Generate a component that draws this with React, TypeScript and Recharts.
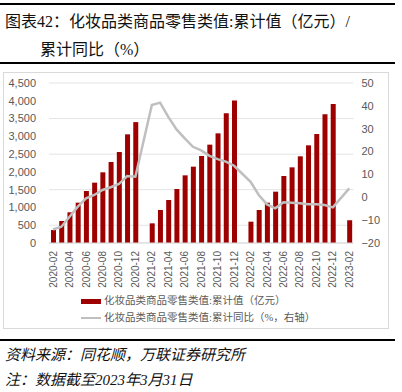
import { ComposedChart, Bar, Line, XAxis, YAxis, CartesianGrid } from "recharts";

const months = [
  "2020-02", "2020-03", "2020-04", "2020-05", "2020-06", "2020-07", "2020-08", "2020-09", "2020-10", "2020-11", "2020-12",
  "2021-01", "2021-02", "2021-03", "2021-04", "2021-05", "2021-06", "2021-07", "2021-08", "2021-09", "2021-10", "2021-11", "2021-12",
  "2022-01", "2022-02", "2022-03", "2022-04", "2022-05", "2022-06", "2022-07", "2022-08", "2022-09", "2022-10", "2022-11", "2022-12",
  "2023-01", "2023-02",
];

// 累计值（亿元）
const cumValue = [
  366, 619, 863, 1134, 1462, 1697, 1988, 2278, 2559, 3056, 3400,
  null, 553, 928, 1209, 1519, 1903, 2147, 2447, 2766, 3084, 3647, 4010,
  null, 600, 928, 1134, 1444, 1884, 2128, 2438, 2747, 3066, 3619, 3910,
  null, 640,
];

// 累计同比（%）
const cumYoy = [
  -14.1, -12.9, -8.5, -4.1, -0.5, 1.0, 3.2, 4.4, 5.8, 9.3, 9.0,
  null, 40.4, 41.4, 35.2, 29.7, 25.8, 22.1, 20.5, 18.1, 16.7, 15.6, 13.8,
  null, 6.8, 1.0, -3.1, -4.8, -2.2, -2.4, -2.6, -3.0, -3.1, -3.4, -4.4,
  null, 3.9,
];

const leftTicks = [0, 500, 1000, 1500, 2000, 2500, 3000, 3500, 4000, 4500];
const rightTicks = [-20, -10, 0, 10, 20, 30, 40, 50];

const data = months.map((m, i) => ({ month: m, value: cumValue[i], yoy: cumYoy[i] }));

const RED = "#9E0000";
const GRAY = "#BFBFBF";
const TICK = "#595959";
const SANS = '"Liberation Sans", Arial, sans-serif';
const CJK = '"Liberation Serif", "Noto Sans CJK SC", serif';

function MonthTick({ x, y, payload }: any) {
  return (
    <g transform={`translate(${x},${y})`}>
      <text transform="rotate(-90)" textAnchor="end" dy="0.35em" fill={TICK} fontSize={10} fontFamily={SANS}>
        {payload.value}
      </text>
    </g>
  );
}

const fmtLeft = (v: number) => v.toLocaleString("en-US");
const fmtRight = (v: number) => (v < 0 ? "\u2212" + Math.abs(v) : String(v));

export default function App() {
  return (
    <div style={{ position: "relative", width: 402, height: 392, background: "#fff", overflow: "hidden" }}>
      <style>{`body{margin:0}`}</style>
      <div style={{ position: "absolute", left: 0, top: 3, width: 395, height: 1.5, background: "#000" }} />
      <div style={{ position: "absolute", left: 5, top: 12, fontFamily: CJK, fontSize: 16, lineHeight: "20px", color: "#111", whiteSpace: "nowrap" }}>
        图表42：化妆品类商品零售类值:累计值（亿元）/
      </div>
      <div style={{ position: "absolute", left: 40, top: 40, fontFamily: CJK, fontSize: 16, lineHeight: "20px", color: "#111", whiteSpace: "nowrap" }}>
        累计同比（%）
      </div>
      <div style={{ position: "absolute", left: 0, top: 62, width: 395, height: 2, background: "#000" }} />

      <div style={{ position: "absolute", left: 3, top: 72, width: 386, height: 257, border: "1px solid #D9D9D9", boxSizing: "border-box" }} />
      <div style={{ position: "absolute", left: 3, top: 72 }}>
        <ComposedChart width={386} height={257} data={data} margin={{ top: 11, right: 0, bottom: 0, left: 0 }}>
          <CartesianGrid yAxisId="left" vertical={false} stroke="#E4E4E4" />
          <XAxis
            dataKey="month"
            interval={1}
            tick={<MonthTick />}
            tickLine={false}
            axisLine={{ stroke: "#D9D9D9" }}
            height={86}
            tickMargin={2}
          />
          <YAxis
            yAxisId="left"
            width={46}
            domain={[0, 4500]}
            ticks={leftTicks}
            tickFormatter={fmtLeft}
            tick={{ fill: TICK, fontSize: 11, fontFamily: SANS }}
            tickLine={false}
            axisLine={false}
            tickMargin={7}
          />
          <YAxis
            yAxisId="right"
            orientation="right"
            width={35.6}
            domain={[-20, 50]}
            ticks={rightTicks}
            tickFormatter={fmtRight}
            tick={{ fill: TICK, fontSize: 11, fontFamily: SANS, textAnchor: "start" }}
            tickLine={false}
            axisLine={false}
          />
          <Bar yAxisId="left" dataKey="value" fill={RED} barSize={5} isAnimationActive={false} />
          <Line
            yAxisId="right"
            dataKey="yoy"
            stroke={GRAY}
            strokeWidth={2.5}
            dot={false}
            connectNulls
            type="linear"
            isAnimationActive={false}
          />
        </ComposedChart>
      </div>

      <div style={{ position: "absolute", left: 81, top: 298.5, width: 20, height: 5, background: RED }} />
      <div style={{ position: "absolute", left: 104, top: 294, fontFamily: CJK, fontSize: 10.5, lineHeight: "14px", color: TICK, whiteSpace: "nowrap" }}>
        化妆品类商品零售类值:累计值（亿元）
      </div>
      <div style={{ position: "absolute", left: 81, top: 316.5, width: 20, height: 2, background: GRAY }} />
      <div style={{ position: "absolute", left: 104, top: 310.5, fontFamily: CJK, fontSize: 10.5, lineHeight: "14px", color: TICK, whiteSpace: "nowrap" }}>
        化妆品类商品零售类值:累计同比（%，右轴）
      </div>

      <div style={{ position: "absolute", left: 0, top: 339, width: 395, height: 2, background: "#000" }} />
      <div style={{ position: "absolute", left: 5, top: 345, fontFamily: CJK, fontSize: 15, fontStyle: "italic", lineHeight: "20px", color: "#111", whiteSpace: "nowrap" }}>
        资料来源：同花顺，万联证券研究所
      </div>
      <div style={{ position: "absolute", left: 5, top: 370, fontFamily: CJK, fontSize: 15, fontStyle: "italic", lineHeight: "20px", color: "#111", whiteSpace: "nowrap" }}>
        注：数据截至2023年3月31日
      </div>
    </div>
  );
}
